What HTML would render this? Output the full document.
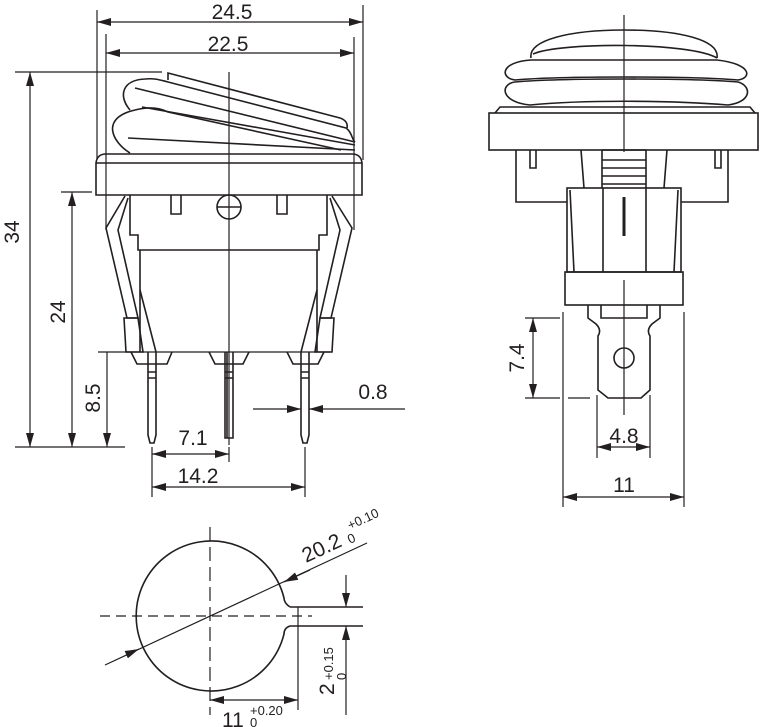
<!DOCTYPE html>
<html><head><meta charset="utf-8"><style>
html,body{margin:0;padding:0;background:#fff}
svg{display:block}
text{font-family:"Liberation Sans",Arial,sans-serif;fill:#231f20}
</style></head><body>
<svg width="760" height="727" viewBox="0 0 760 727" xmlns="http://www.w3.org/2000/svg">
<defs>
<marker id="a" viewBox="0 0 14 8" refX="14" refY="4" markerWidth="14" markerHeight="8" markerUnits="userSpaceOnUse" orient="auto-start-reverse"><path d="M0,0 L14,4 L0,8 Z" fill="#231f20"/></marker>
</defs>
<g fill="none" stroke="#231f20" stroke-width="1.2">
<line x1="97" y1="10" x2="97" y2="160"/>
<line x1="363" y1="5" x2="363" y2="160"/>
<line x1="97" y1="22" x2="363" y2="22" marker-start="url(#a)" marker-end="url(#a)"/>
<line x1="106" y1="34" x2="106" y2="230"/>
<line x1="354" y1="37" x2="354" y2="230"/>
<line x1="106" y1="53" x2="354" y2="53" marker-start="url(#a)" marker-end="url(#a)"/>
<line x1="15" y1="72" x2="162" y2="72"/>
<line x1="30" y1="72" x2="30" y2="447" marker-start="url(#a)" marker-end="url(#a)"/>
<line x1="61" y1="192" x2="92" y2="192"/>
<line x1="72" y1="192" x2="72" y2="447" marker-start="url(#a)" marker-end="url(#a)"/>
<line x1="98" y1="352" x2="330" y2="352"/>
<line x1="107" y1="352" x2="107" y2="447" marker-end="url(#a)"/>
<line x1="15" y1="447" x2="125" y2="447"/>
<line x1="229" y1="72" x2="229" y2="445"/>
<line x1="152" y1="447" x2="152" y2="497"/>
<line x1="305" y1="447" x2="305" y2="497"/>
<line x1="229" y1="447" x2="229" y2="462"/>
<line x1="152" y1="454" x2="229" y2="454" marker-start="url(#a)" marker-end="url(#a)"/>
<line x1="152" y1="487" x2="305" y2="487" marker-start="url(#a)" marker-end="url(#a)"/>
<line x1="253" y1="409" x2="301" y2="409" marker-end="url(#a)"/>
<line x1="405" y1="409" x2="309" y2="409" marker-end="url(#a)"/>
<g stroke-width="1.6">
<path d="M130,153 C112,142 100,118 135,110 C150,106 160,108 168,112 L341,150"/>
<path d="M130,110 C118,96 122,80 145,79 C155,78 160,80 168,82 L346,128 C352,132 352,140 355,142"/>
<path d="M168,80 L168,73 L340,118 C346,120 348,124 347,128"/>
<path d="M135,88 L355,142"/>
<path d="M142,107 L355,145"/>
<path d="M128,138 L355,150"/>
<path d="M96,163 Q97,154 106,154 L352,154 Q361,154 362,163 L362,195 L96,195 Z"/>
<line x1="96" y1="163" x2="362" y2="163"/>
<circle cx="229" cy="207" r="12"/>
<line x1="217" y1="207" x2="241" y2="207"/>
<path d="M171,195 V214 H181 V195 M277,195 V214 H287 V195"/>
<path d="M130,195 V235 H138 V250 H319 V235 H327 V195"/>
<path d="M140,250 V352 M317,250 V352"/>
<path d="M125,196 L106,228 L127,318 L138,318 L118,230 L128,198"/>
<path d="M332,196 L352,228 L331,318 L320,318 L340,230 L330,198"/>
<path d="M124,318 H138 L143,352 L126,352 Z M320,318 H334 L332,352 L315,352 Z"/>
<path d="M140,290 L156,352 M317,290 L301,352"/>
<path d="M131,352 L137,364 H167 L172,352"/>
<path d="M209,352 L215,364 H243 L249,352"/>
<path d="M287,352 L293,364 H318 L324,352"/>
<path d="M148,352 V435 L150,443 H154 L156,435 V352 M148,372 H156 M148,378 H156"/>
<path d="M225,352 V438 H233 V352 M227,352 V438 M225,372 H233 M225,378 H233"/>
<path d="M301,352 V435 L303,443 H307 L309,435 V352 M301,372 H309 M301,378 H309"/>
</g>
<line x1="624" y1="15" x2="624" y2="152"/>
<line x1="624" y1="280" x2="624" y2="415"/>
<g stroke-width="1.6">
<path d="M531,58 C528,40 570,30 624,30 C680,30 720,40 717,58"/>
<path d="M533,54 C560,42 690,42 717,58"/>
<path d="M531,60 C500,62 500,78 515,80 C560,76 690,76 738,80 C752,78 752,64 717,60 Z"/>
<path d="M515,82 C500,84 500,102 530,105 C580,100 670,100 728,105 C752,102 752,86 738,82 C690,78 560,78 515,82 Z"/>
<path d="M495,113 L500,107 H750 L755,113"/>
<rect x="489" y="113" width="269" height="37"/>
<path d="M516,150 V202 H567 M728,150 V202 H681"/>
<path d="M530,150 V168 H536 V150 M715,150 V168 H721 V150"/>
<path d="M581,150 L584,188 M667,150 L664,188"/>
<path d="M602,150 H646 M602,150 V188 M646,150 V188 M602,160 H646 M602,168 H646 M602,176 H646 M602,184 H646"/>
<rect x="567" y="188" width="114" height="84"/>
<path d="M603,188 V272 M646,188 V272 M570,190 L574,272 M678,190 L674,272"/>
<line x1="624" y1="197" x2="624" y2="236" stroke-width="3"/>
<rect x="565" y="272" width="118" height="33"/>
<path d="M588,305 V318 L596,324 Q602,330 598,336 V390 L608,398 H641 L650,390 V336 Q646,330 652,324 L660,318 V305"/>
<path d="M601,305 V318 H647 V305"/>
<circle cx="624" cy="358" r="10"/>
</g>
<line x1="525" y1="318" x2="560" y2="318"/>
<line x1="525" y1="398" x2="560" y2="398"/>
<line x1="568" y1="398" x2="590" y2="398"/>
<line x1="533" y1="318" x2="533" y2="398" marker-start="url(#a)" marker-end="url(#a)"/>
<line x1="597" y1="395" x2="597" y2="458"/>
<line x1="650" y1="395" x2="650" y2="458"/>
<line x1="597" y1="447" x2="650" y2="447" marker-start="url(#a)" marker-end="url(#a)"/>
<line x1="563" y1="312" x2="563" y2="507"/>
<line x1="684" y1="312" x2="684" y2="507"/>
<line x1="563" y1="497" x2="684" y2="497" marker-start="url(#a)" marker-end="url(#a)"/>
<path stroke-width="1.6" d="M290,607 Q284,603 284,598 A75,75 0 1 0 284,634 Q284,628 290,626 H363 M290,607 H363"/>
<line x1="100" y1="616" x2="312" y2="616" stroke-dasharray="10,6"/>
<line x1="210" y1="527" x2="210" y2="715" stroke-dasharray="14,6"/>
<line x1="105" y1="665" x2="367" y2="543"/>
<line x1="130" y1="653" x2="139" y2="649" marker-end="url(#a)"/>
<line x1="310" y1="570" x2="284" y2="582" marker-end="url(#a)"/>
<line x1="346" y1="575" x2="346" y2="607" marker-end="url(#a)"/>
<line x1="346" y1="715" x2="346" y2="626" marker-end="url(#a)"/>
<line x1="298" y1="607" x2="298" y2="710"/>
<line x1="210" y1="700" x2="298" y2="700" marker-start="url(#a)" marker-end="url(#a)"/>
</g>
<g font-size="21">
<text x="232" y="19" text-anchor="middle">24.5</text>
<text x="228" y="51" text-anchor="middle">22.5</text>
<text transform="translate(19,232) rotate(-90)" text-anchor="middle">34</text>
<text transform="translate(65,312) rotate(-90)" text-anchor="middle">24</text>
<text transform="translate(100,398) rotate(-90)" text-anchor="middle">8.5</text>
<text x="193" y="445" text-anchor="middle">7.1</text>
<text x="198" y="483" text-anchor="middle">14.2</text>
<text x="373" y="399" text-anchor="middle">0.8</text>
<text transform="translate(524,358) rotate(-90)" text-anchor="middle">7.4</text>
<text x="624" y="443" text-anchor="middle">4.8</text>
<text x="624" y="492" text-anchor="middle">11</text>
<text transform="translate(306,563) rotate(-25)">20.2</text>
<text transform="translate(334,695) rotate(-90)">2</text>
<text x="222" y="727">11</text>
</g>
<g font-size="13">
<text transform="translate(350,530) rotate(-25)">+0.10</text>
<text transform="translate(350,544) rotate(-25)">0</text>
<text transform="translate(333,680) rotate(-90)">+0.15</text>
<text transform="translate(346,680) rotate(-90)">0</text>
<text x="250" y="715">+0.20</text>
<text x="250" y="727">0</text>
</g>
</svg>
</body></html>
